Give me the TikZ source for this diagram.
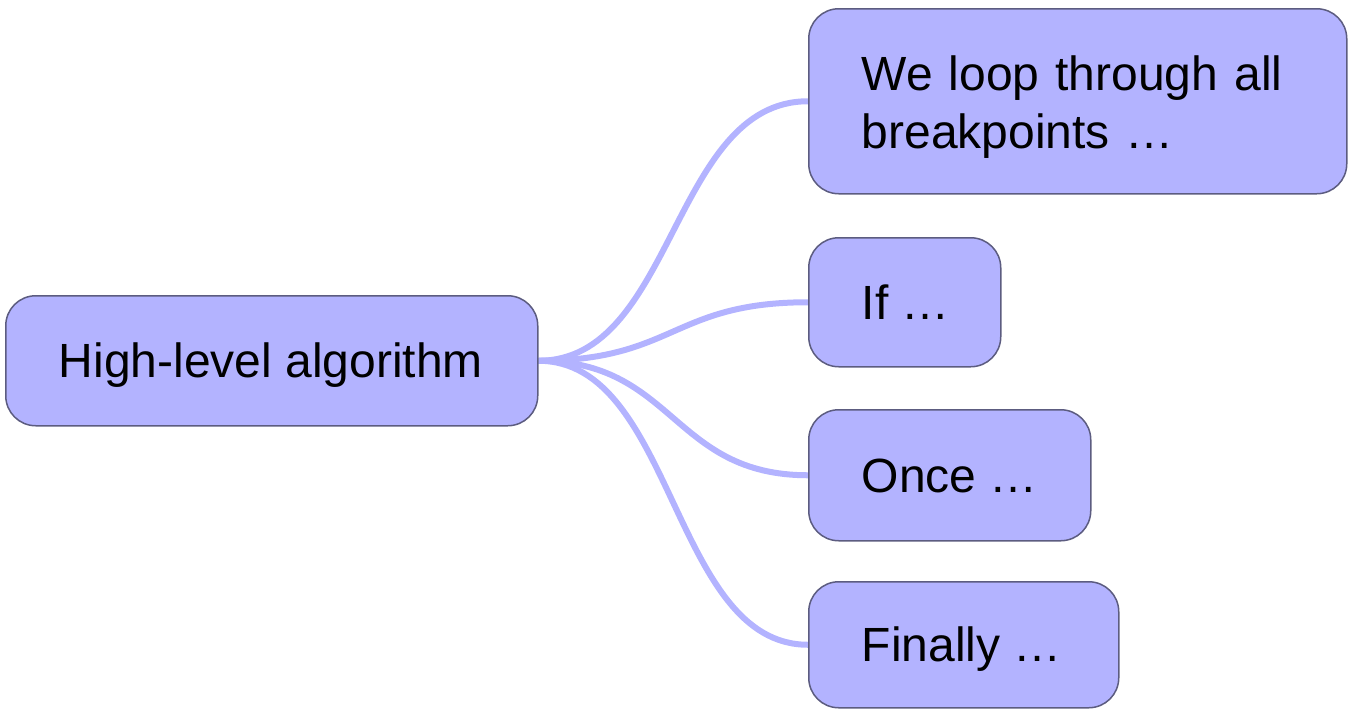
\documentclass[tikz,border=0pt]{standalone}
\usepackage{fontspec}
\setmainfont{Liberation Sans}
\usetikzlibrary{backgrounds}
\definecolor{boxfill}{HTML}{B3B3FF}
\definecolor{boxline}{HTML}{5C5C80}
\definecolor{linkcol}{HTML}{B3B3FF}
\newcommand{\lbox}[2]{\makebox[#1pt][l]{#2}}
\begin{document}
\begin{tikzpicture}[x=1pt,y=-1pt,
  topic/.style={draw=boxline, line width=0.75pt, fill=boxfill, rounded corners=15pt,
    anchor=north west, inner xsep=26.5pt, inner ysep=0pt, align=left,
    text height=22pt, text depth=5pt,
    font=\fontsize{24}{29}\selectfont},
  link/.style={draw=linkcol, line width=3pt}]
\useasboundingbox (0,0) rectangle (675,354);
\node[topic, minimum height=65pt] (root) at (2.5,147.5) {\lbox{213}{High-level algorithm}};
\node[topic, text width=216pt, minimum height=92.5pt, text height=23.5pt, text depth=34pt] (b1) at (404,4) {We loop through all\\breakpoints …};
\node[topic, minimum height=64.5pt] (b2) at (404,118.5) {\lbox{43}{If …}};
\node[topic, minimum height=65.5pt] (b3) at (404,204.5) {\lbox{88}{Once …}};
\node[topic, minimum height=63pt] (b4) at (404,290.5) {\lbox{102}{Finally …}};
\begin{pgfonlayer}{background}
\foreach \b in {b1,b2,b3,b4}{
  \draw[link] (root.east) .. controls +(68,0) and +(-68,0) .. (\b.west);
}
\end{pgfonlayer}
\end{tikzpicture}
\end{document}
